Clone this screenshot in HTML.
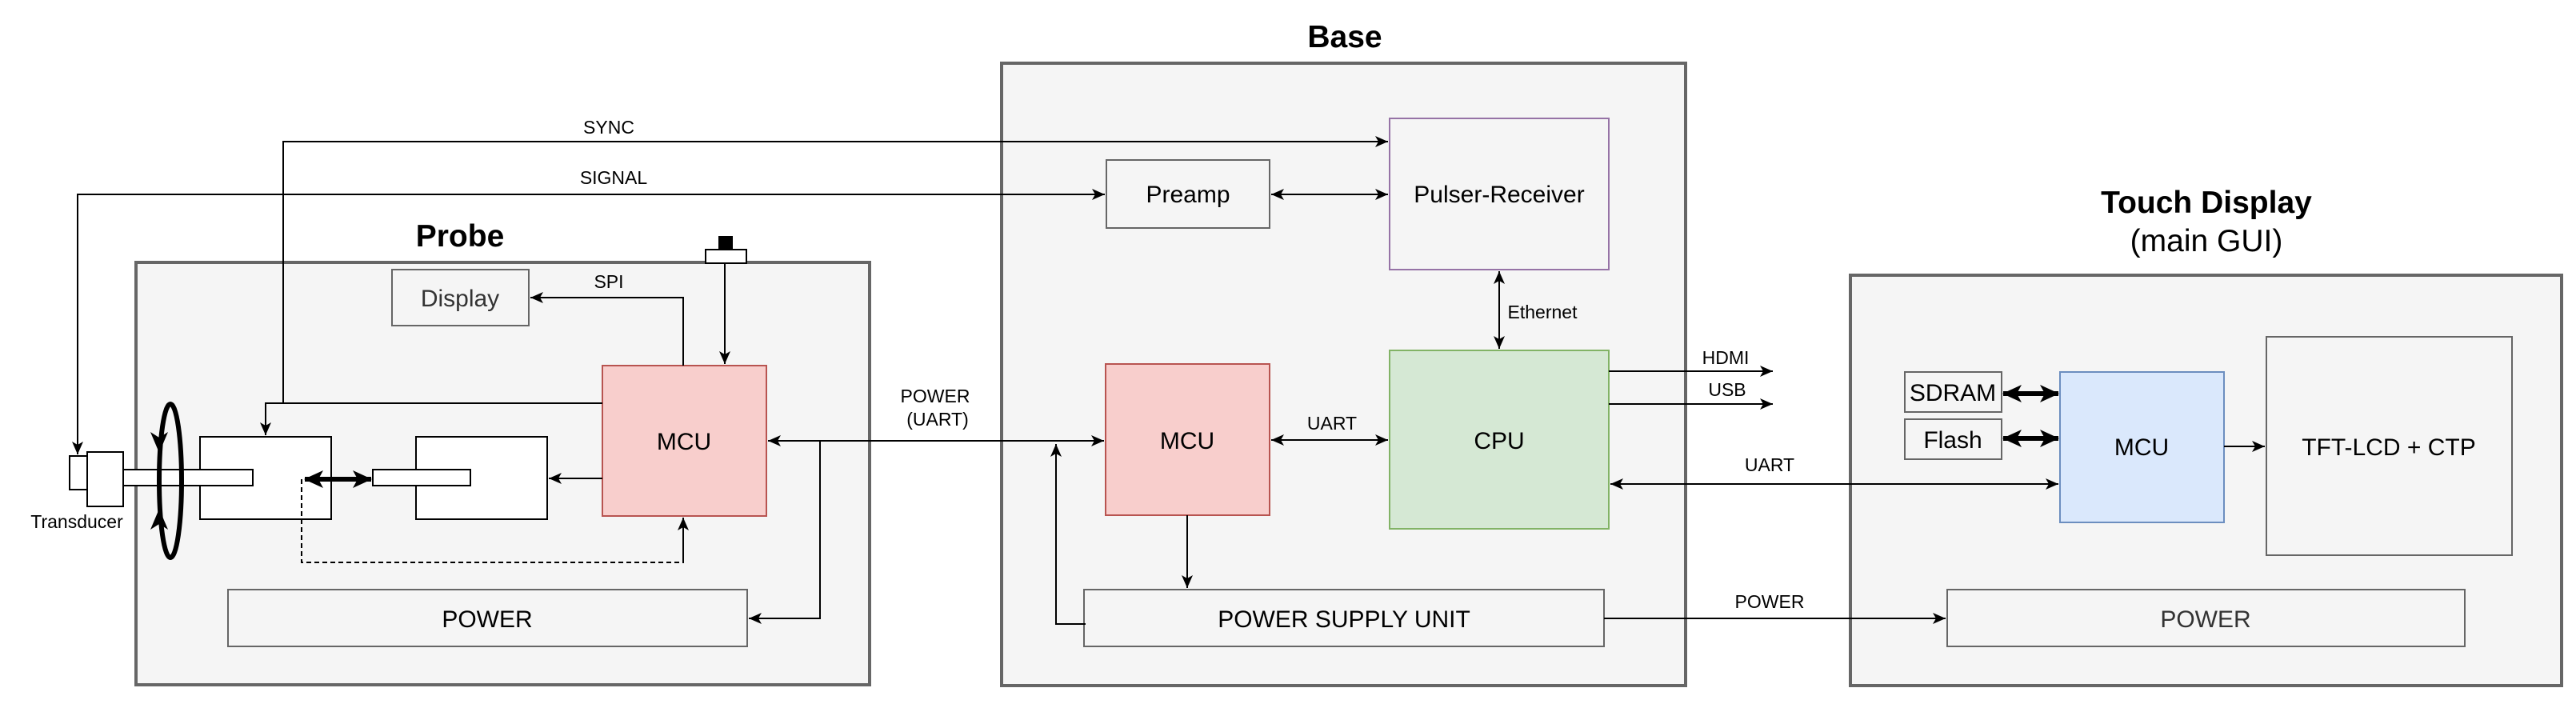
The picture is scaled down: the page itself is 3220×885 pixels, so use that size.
<!DOCTYPE html>
<html><head><meta charset="utf-8"><style>
html,body{margin:0;padding:0;background:#fff;}
svg{display:block;font-family:"Liberation Sans",sans-serif;}
</style></head><body>
<svg width="3220" height="885" viewBox="0 0 3220 885" xmlns="http://www.w3.org/2000/svg">
<defs>
<marker id="a" markerUnits="userSpaceOnUse" markerWidth="20" markerHeight="20" viewBox="0 0 20 20" refX="18" refY="10" orient="auto-start-reverse">
<path d="M2,3 L18,10 L2,17 L6,10 Z" fill="#000"/></marker>
<marker id="b" markerUnits="userSpaceOnUse" markerWidth="26" markerHeight="26" viewBox="0 0 26 26" refX="24" refY="13" orient="auto-start-reverse">
<path d="M1,2 L25,13 L1,24 L7,13 Z" fill="#000"/></marker>
</defs>
<g stroke="#000" stroke-width="2" fill="none">
<rect x="170" y="328" width="917" height="528" fill="#f5f5f5" stroke="#666" stroke-width="4"/>
<rect x="1252" y="79" width="855" height="778" fill="#f5f5f5" stroke="#666" stroke-width="4"/>
<rect x="2313" y="344" width="889" height="513" fill="#f5f5f5" stroke="#666" stroke-width="4"/>
</g>
<g font-size="24" text-anchor="middle" fill="#000">
<text x="575" y="308" font-size="39" font-weight="bold">Probe</text>
<text x="1681" y="59" font-size="39" font-weight="bold">Base</text>
<text x="2758" y="266" font-size="39" font-weight="bold">Touch Display</text>
<text x="2758" y="314" font-size="39">(main GUI)</text>
</g>
<g stroke="#000" stroke-width="2" fill="none">
<rect x="490" y="337" width="171" height="70" fill="#f5f5f5" stroke="#666"/>
<rect x="753" y="457" width="205" height="188" fill="#f8cecc" stroke="#b85450"/>
<rect x="250" y="546" width="164" height="103" fill="#fff"/>
<rect x="520" y="546" width="164" height="103" fill="#fff"/>
<rect x="154" y="587" width="162" height="20" fill="#fff"/>
<rect x="466" y="587" width="122" height="20" fill="#fff"/>
<rect x="87" y="570" width="22" height="42" fill="#fff"/>
<rect x="109" y="565" width="45" height="68" fill="#fff"/>
<rect x="285" y="737" width="649" height="71" fill="#f5f5f5" stroke="#666"/>
<rect x="898" y="295" width="18" height="17" fill="#000" stroke="none"/>
<rect x="882" y="312" width="51" height="17" fill="#fff"/>
<ellipse cx="213" cy="601" rx="14" ry="96" stroke-width="6"/>
<rect x="1383" y="200" width="204" height="85" fill="#f5f5f5" stroke="#666"/>
<rect x="1737" y="148" width="274" height="189" fill="#f5f5f5" stroke="#9673a6"/>
<rect x="1737" y="438" width="274" height="223" fill="#d5e8d4" stroke="#82b366"/>
<rect x="1382" y="455" width="205" height="189" fill="#f8cecc" stroke="#b85450"/>
<rect x="1355" y="737" width="650" height="71" fill="#f5f5f5" stroke="#666"/>
<rect x="2381" y="465" width="121" height="50" fill="#f5f5f5" stroke="#666"/>
<rect x="2381" y="524" width="121" height="50" fill="#f5f5f5" stroke="#666"/>
<rect x="2575" y="465" width="205" height="188" fill="#dae8fc" stroke="#6c8ebf"/>
<rect x="2833" y="421" width="307" height="273" fill="#f5f5f5" stroke="#666"/>
<rect x="2434" y="737" width="647" height="71" fill="#f5f5f5" stroke="#666"/>

<path d="M753,504 H354 V177 H1735" marker-end="url(#a)"/>
<path d="M354,504 H332 V544" marker-end="url(#a)"/>
<path d="M1381,243 H97 V568" marker-start="url(#a)" marker-end="url(#a)"/>
<path d="M854,457 V372 H663" marker-end="url(#a)"/>
<path d="M906,329 V455" marker-end="url(#a)"/>
<path d="M753,598 H686" marker-end="url(#a)"/>
<path d="M377,599 V703 H854 V647" stroke-dasharray="6,4"/>
<path d="M854,703 V647" marker-end="url(#a)"/>
<path d="M381,599 H464" stroke-width="6" marker-start="url(#b)" marker-end="url(#b)"/>
<path d="M1380,551 H960" marker-start="url(#a)" marker-end="url(#a)"/>
<path d="M1025,551 V773 H936" marker-end="url(#a)"/>
<path d="M1589,243 H1735" marker-start="url(#a)" marker-end="url(#a)"/>
<path d="M1874,339 V436" marker-start="url(#a)" marker-end="url(#a)"/>
<path d="M1589,550 H1735" marker-start="url(#a)" marker-end="url(#a)"/>
<path d="M1484,644 V735" marker-end="url(#a)"/>
<path d="M1357,780 H1320 V555" marker-end="url(#a)"/>
<path d="M2011,464 H2216" marker-end="url(#a)"/>
<path d="M2011,505 H2216" marker-end="url(#a)"/>
<path d="M2013,605 H2573" marker-start="url(#a)" marker-end="url(#a)"/>
<path d="M2005,773 H2432" marker-end="url(#a)"/>
<path d="M2780,558 H2831" marker-end="url(#a)"/>
<path d="M2504,492 H2573" stroke-width="6" marker-start="url(#b)" marker-end="url(#b)"/>
<path d="M2504,548 H2573" stroke-width="6" marker-start="url(#b)" marker-end="url(#b)"/>
</g>
<path d="M199,566 L188,540 L199,547 L210,540 Z" fill="#000"/>
<path d="M199,636 L188,662 L199,655 L210,662 Z" fill="#000"/>
<g font-size="30" text-anchor="middle" fill="#000">
<text x="575" y="383" fill="#333">Display</text>
<text x="855" y="562">MCU</text>
<text x="609" y="784">POWER</text>
<text x="1485" y="253">Preamp</text>
<text x="1874" y="253">Pulser-Receiver</text>
<text x="1484" y="561">MCU</text>
<text x="1874" y="561">CPU</text>
<text x="1680" y="784">POWER SUPPLY UNIT</text>
<text x="2441" y="501">SDRAM</text>
<text x="2441" y="560">Flash</text>
<text x="2677" y="569">MCU</text>
<text x="2986" y="569">TFT-LCD + CTP</text>
<text x="2757" y="784" fill="#333">POWER</text>
</g>
<g font-size="23" text-anchor="middle" fill="#000">
<text x="761" y="167">SYNC</text>
<text x="767" y="230">SIGNAL</text>
<text x="761" y="360">SPI</text>
<text x="96" y="660">Transducer</text>
<text x="1169" y="503">POWER</text>
<text x="1172" y="532">(UART)</text>
<text x="1665" y="537">UART</text>
<text x="1928" y="398">Ethernet</text>
<text x="2157" y="455">HDMI</text>
<text x="2159" y="495">USB</text>
<text x="2212" y="589">UART</text>
<text x="2212" y="760">POWER</text>
</g>
</svg>
</body></html>
